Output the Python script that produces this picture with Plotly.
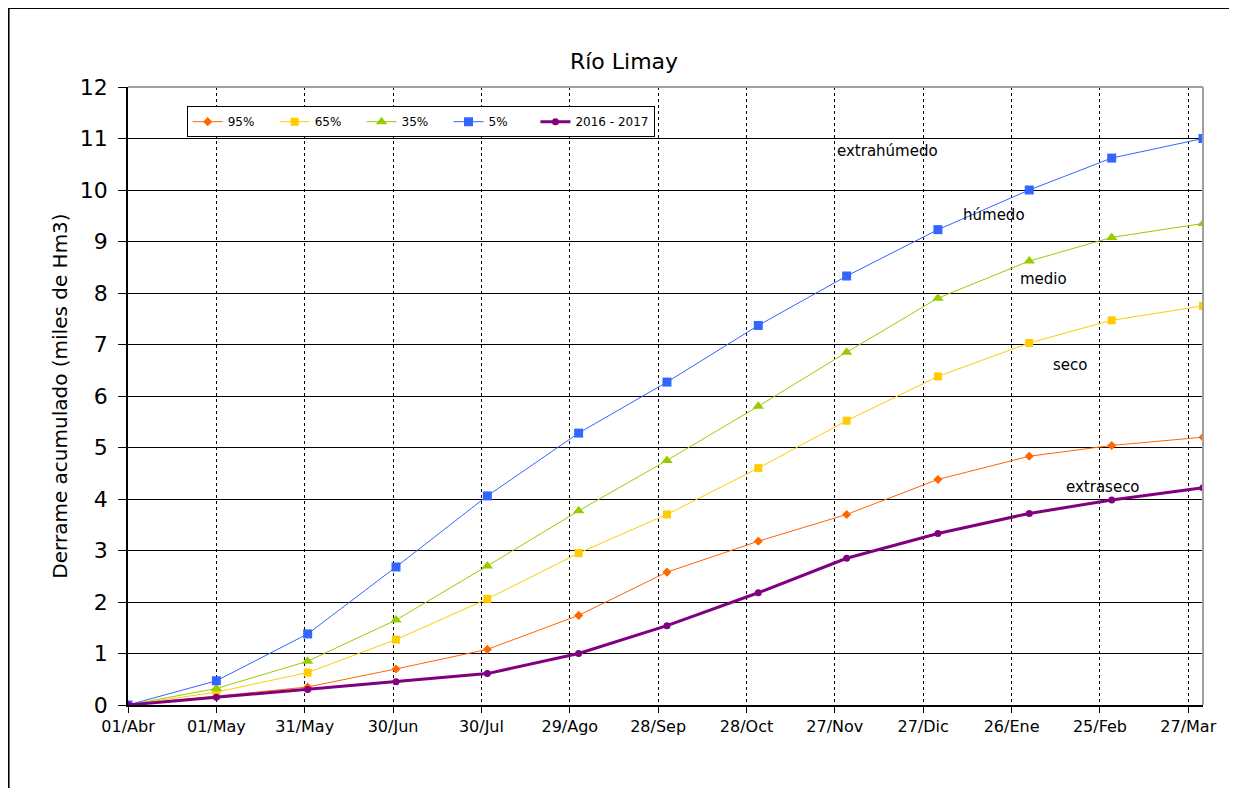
import plotly.graph_objects as go

# fechas de cada punto (inicio de mes)
fechas = ["2016-04-01", "2016-05-01", "2016-06-01", "2016-07-01", "2016-08-01",
          "2016-09-01", "2016-10-01", "2016-11-01", "2016-12-01", "2017-01-01",
          "2017-02-01", "2017-03-01", "2017-04-01"]

# derrame acumulado (miles de Hm3)
p95 = [0, 0.17, 0.35, 0.70, 1.08, 1.74, 2.58, 3.18, 3.70, 4.38, 4.83, 5.04, 5.20]
p65 = [0, 0.25, 0.63, 1.27, 2.06, 2.95, 3.70, 4.60, 5.52, 6.38, 7.03, 7.47, 7.75]
p35 = [0, 0.32, 0.85, 1.65, 2.70, 3.77, 4.75, 5.80, 6.85, 7.90, 8.62, 9.08, 9.35]
p5 = [0, 0.47, 1.38, 2.68, 4.06, 5.28, 6.27, 7.37, 8.33, 9.23, 10.00, 10.62, 11.00]
actual = [0, 0.15, 0.30, 0.45, 0.61, 1.00, 1.54, 2.18, 2.85, 3.33, 3.72, 3.98, 4.22]

# ejes
tick_fechas = ["2016-04-01", "2016-05-01", "2016-05-31", "2016-06-30", "2016-07-30",
               "2016-08-29", "2016-09-28", "2016-10-28", "2016-11-27", "2016-12-27",
               "2017-01-26", "2017-02-25", "2017-03-27"]
tick_textos = ["01/Abr", "01/May", "31/May", "30/Jun", "30/Jul", "29/Ago", "28/Sep",
               "28/Oct", "27/Nov", "27/Dic", "26/Ene", "25/Feb", "27/Mar"]

# etiquetas de tipo de año
etiquetas = ["extrahúmedo", "húmedo", "medio", "seco", "extraseco"]
etiq_x = ["2016-12-15", "2017-01-20", "2017-02-06", "2017-02-15", "2017-02-26"]
etiq_y = [10.76, 9.51, 8.27, 6.60, 4.23]

FONT = "DejaVu Sans"
PAD = "\u00a0" * 4  # relleno para separar las entradas de la leyenda

fig = go.Figure()

fig.add_trace(go.Scatter(x=fechas, y=p95, name="95%" + PAD, mode="lines+markers",
                         line=dict(color="#FF6600", width=1),
                         marker=dict(symbol="diamond", size=7, color="#FF6600")))
fig.add_trace(go.Scatter(x=fechas, y=p65, name="65%" + PAD, mode="lines+markers",
                         line=dict(color="#FFCC00", width=1),
                         marker=dict(symbol="square", size=8, color="#FFCC00")))
fig.add_trace(go.Scatter(x=fechas, y=p35, name="35%" + PAD, mode="lines+markers",
                         line=dict(color="#99CC00", width=1),
                         marker=dict(symbol="triangle-up", size=10, color="#99CC00")))
fig.add_trace(go.Scatter(x=fechas, y=p5, name="5%" + PAD + "\u00a0\u00a0", mode="lines+markers",
                         line=dict(color="#3366FF", width=1),
                         marker=dict(symbol="square", size=9, color="#3366FF")))
fig.add_trace(go.Scatter(x=fechas, y=actual, name="2016 - 2017", mode="lines+markers",
                         line=dict(color="#800080", width=3),
                         marker=dict(symbol="circle", size=7, color="#800080")))

for t, x, y in zip(etiquetas, etiq_x, etiq_y):
    fig.add_annotation(x=x, y=y, text=t, showarrow=False,
                       font=dict(family=FONT, size=15, color="black"))

# borde exterior, bordes gris del area y sombra de la leyenda
fig.add_shape(type="rect", xref="paper", yref="paper", x0=-0.1111, x1=1.3, y0=-0.4, y1=1.1278,
              line=dict(color="black", width=2), layer="below")
fig.add_shape(type="line", xref="paper", yref="paper", x0=0, x1=1, y0=1, y1=1,
              line=dict(color="#A0A0A0", width=2))
fig.add_shape(type="line", xref="paper", yref="paper", x0=1, x1=1, y0=0, y1=1,
              line=dict(color="#A0A0A0", width=2))
fig.add_shape(type="rect", xref="paper", yref="paper", x0=0.0565, x1=0.4870, y0=0.9272, y1=0.9660,
              fillcolor="#808080", line=dict(width=0), layer="below")

fig.update_layout(
    width=1221, height=780,
    paper_bgcolor="white", plot_bgcolor="white",
    margin=dict(l=120, r=21, t=79, b=83),
    font=dict(family=FONT, color="black"),
    title=dict(text="Río Limay", x=0.5045, xanchor="center", y=0.932, yanchor="middle",
               font=dict(family=FONT, size=22)),
    showlegend=True,
    legend=dict(orientation="h", x=0.0546, y=0.969, xanchor="left", yanchor="top",
                bgcolor="white", bordercolor="black", borderwidth=1,
                font=dict(family=FONT, size=12), itemwidth=30),
)

fig.update_xaxes(type="date", range=["2016-04-01", "2017-04-01"],
                 tickvals=tick_fechas, ticktext=tick_textos,
                 tickfont=dict(family=FONT, size=16),
                 showgrid=True, gridcolor="black", gridwidth=1, griddash="3px,3px",
                 showline=True, linecolor="black", linewidth=1.5,
                 ticks="outside", ticklen=6, tickcolor="black", zeroline=False)
fig.update_yaxes(range=[0, 12], dtick=1,
                 tickfont=dict(family=FONT, size=22), ticklabelstandoff=6,
                 title=dict(text="Derrame acumulado (miles de Hm3)",
                            font=dict(family=FONT, size=20), standoff=7),
                 showgrid=True, gridcolor="black", gridwidth=1,
                 showline=True, linecolor="black", linewidth=1.5,
                 ticks="outside", ticklen=8, tickcolor="black", zeroline=False)

fig.write_html("out.html")
